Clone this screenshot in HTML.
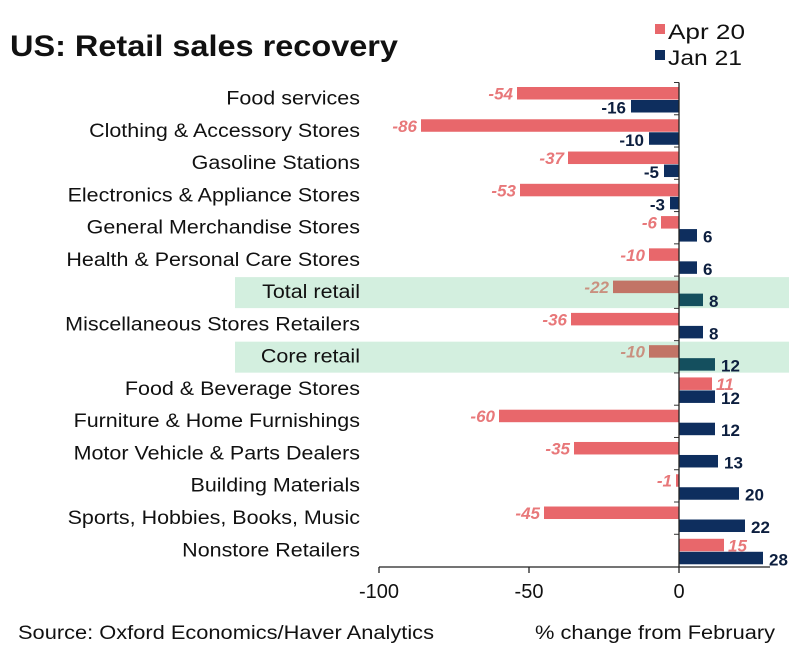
<!DOCTYPE html>
<html><head><meta charset="utf-8"><style>
body{margin:0;background:#fff;font-family:"Liberation Sans",sans-serif;}
svg text{font-family:"Liberation Sans",sans-serif;}
</style></head><body>
<svg id="c" width="800" height="662" xmlns="http://www.w3.org/2000/svg">
<text x="10" y="56" font-size="30" font-weight="bold" fill="#111" textLength="388" lengthAdjust="spacingAndGlyphs">US: Retail sales recovery</text>
<rect x="655" y="24" width="10" height="10" fill="#e8676b"/>
<text x="668" y="39" font-size="21" fill="#111" textLength="77" lengthAdjust="spacingAndGlyphs">Apr 20</text>
<rect x="655" y="50" width="10" height="10" fill="#0e2e5e"/>
<text x="668" y="65" font-size="21" fill="#111" textLength="74" lengthAdjust="spacingAndGlyphs">Jan 21</text>
<g id="bands"></g>
<g id="plot"></g>
<text x="18" y="639" font-size="19" fill="#111" textLength="416" lengthAdjust="spacingAndGlyphs">Source: Oxford Economics/Haver Analytics</text>
<text x="535" y="639" font-size="19" fill="#111" textLength="240" lengthAdjust="spacingAndGlyphs">% change from February</text>
</svg>
<script>
const categories=["Food services","Clothing & Accessory Stores","Gasoline Stations","Electronics & Appliance Stores","General Merchandise Stores","Health & Personal Care Stores","Total retail","Miscellaneous Stores Retailers","Core retail","Food & Beverage Stores","Furniture & Home Furnishings","Motor Vehicle & Parts Dealers","Building Materials","Sports, Hobbies, Books, Music","Nonstore Retailers"];
const apr20=[-54,-86,-37,-53,-6,-10,-22,-36,-10,11,-60,-35,-1,-45,15];
const jan21=[-16,-10,-5,-3,6,6,8,8,12,12,12,13,20,22,28];
const highlighted=["Total retail","Core retail"];
const xTicks=[-100,-50,0];

const NS="http://www.w3.org/2000/svg";
const g=document.getElementById('plot');
const gb=document.getElementById('bands');
const x=v=>679+v*3;
const top0=82.5, rowH=32.27;
const yRow=i=>top0+i*rowH;
function mk(t,a,p){const e=document.createElementNS(NS,t);for(const k in a)e.setAttribute(k,a[k]);(p||g).appendChild(e);return e;}
categories.forEach((c,i)=>{
  const y0=yRow(i);
  const hl=highlighted.includes(c);
  if(hl){const b=mk('rect',{x:235,y:y0+1,width:554,height:31,fill:'#d3efdf'},gb);
    
    }
  const lab=mk('text',{x:360,y:y0+22,'font-size':19,'text-anchor':'end',fill:'#111'});
  lab.textContent=c;
  
  
  const w=lab.getComputedTextLength();
  lab.setAttribute('textLength',(w*1.13).toFixed(1));
  lab.setAttribute('lengthAdjust','spacingAndGlyphs');
  const a=apr20[i], j=jan21[i];
  const rc=hl?'#c27466':'#e8676b', bc=hl?'#144f5e':'#0e2e5e';
  const r=mk('rect',{x:Math.min(x(0),x(a)),y:y0+4.5,width:Math.abs(x(a)-x(0)),height:12.5,fill:rc});
  
  
  const bb=mk('rect',{x:Math.min(x(0),x(j)),y:y0+17.5,width:Math.abs(x(j)-x(0)),height:12.5,fill:bc});
  
  
  const at=mk('text',{x:a<0?x(a)-4:x(a)+4,y:y0+17,'font-size':17,'font-weight':'bold','font-style':'italic','text-anchor':a<0?'end':'start',fill:hl?'#c9907f':'#e8787a'});
  at.textContent=a;
  
  
  const bt=mk('text',{x:j<0?x(j)-5:x(j)+6,y:y0+31,'font-size':17,'font-weight':'bold','text-anchor':j<0?'end':'start',fill:'#0d1f3f'});
  bt.textContent=j;
  
  
  const tk=mk('line',{x1:x(0)-5,x2:x(0),y1:y0,y2:y0,stroke:'#333','stroke-width':1});
  
  
});
const ax=mk('line',{x1:x(0),x2:x(0),y1:top0,y2:567,stroke:'#222','stroke-width':1.3});


const xa=mk('line',{x1:x(-100),x2:770,y1:567,y2:567,stroke:'#222','stroke-width':1.3});


xTicks.forEach(t=>{
  const l=mk('line',{x1:x(t),x2:x(t),y1:567,y2:573,stroke:'#222','stroke-width':1.3});
  
  
  const tt=mk('text',{x:x(t),y:598,'font-size':20,'text-anchor':'middle',fill:'#111'});
  tt.textContent=t;
  
  
});
</script>
</body></html>
